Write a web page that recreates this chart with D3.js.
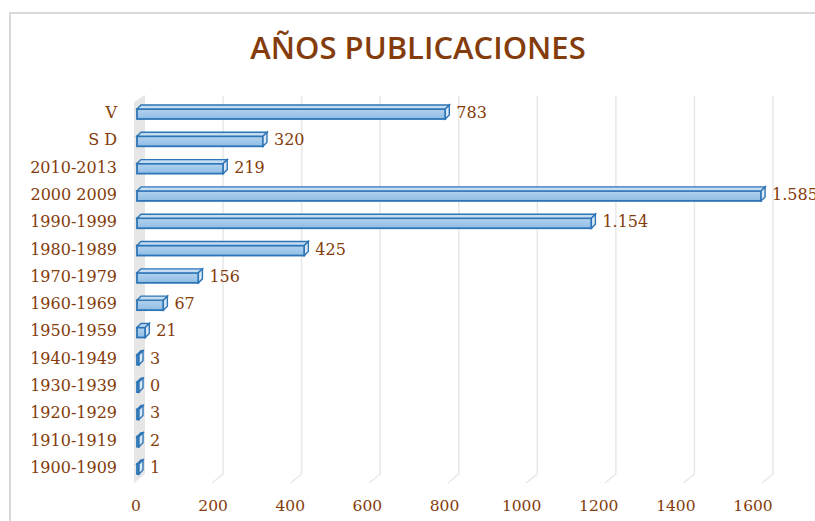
<!DOCTYPE html>
<html>
<head>
<meta charset="utf-8">
<script src="https://cdn.jsdelivr.net/npm/d3@7"></script>
<style>
  body { margin: 0; background: #fff; }
</style>
</head>
<body>
<svg id="chart"></svg>
<script>
const categories = ["V", "S D", "2010-2013", "2000 2009", "1990-1999", "1980-1989", "1970-1979",
    "1960-1969", "1950-1959", "1940-1949", "1930-1939", "1920-1929", "1910-1919", "1900-1909"];
const values = [783, 320, 219, 1585, 1154, 425, 156, 67, 21, 3, 0, 3, 2, 1];
const ticks = [0, 200, 400, 600, 800, 1000, 1200, 1400, 1600];

const width = 815;
const height = 521;
const brown = "#843c0c";
const serif = "DejaVu Serif, serif";

const svg = d3.select("#chart")
    .attr("width", width)
    .attr("height", height);

// chart frame
svg.append("rect")
    .attr("x", 10).attr("y", 13)
    .attr("width", 820).attr("height", 520)
    .attr("fill", "#fff")
    .attr("stroke", "#d9d9d9")
    .attr("stroke-width", 2);

svg.append("text")
    .text("AÑOS PUBLICACIONES")
    .attr("x", 418).attr("y", 59)
    .attr("text-anchor", "middle")
    .attr("font-family", "Open Sans, sans-serif")
    .attr("font-size", 31)
    .attr("font-weight", 600)
    .attr("fill", brown);

// scales: bars on the front, gridlines on the back wall, labels on the floor edge
const x = d3.scaleLinear().domain([0, 1600]).range([137, 767]);
const xGrid = d3.scaleLinear().domain([0, 1600]).range([144.5, 773]);
const xLabel = d3.scaleLinear().domain([0, 1600]).range([136, 753]);
const y = d3.scalePoint().domain(categories).range([112, 467]);
const barH = 14;

// back side wall
svg.append("polygon")
    .attr("points", "134,102 145,95 145,474 134,483")
    .attr("fill", "#e6e6e6");

// gridlines
svg.selectAll(".grid")
    .data(ticks.slice(1))
    .enter().append("line")
    .attr("x1", d => xGrid(d)).attr("x2", d => xGrid(d))
    .attr("y1", 96).attr("y2", 474)
    .attr("stroke", "#e8e8e8")
    .attr("stroke-width", 1.5);

// floor ticks (diagonal)
svg.selectAll(".floor")
    .data(ticks.slice(1))
    .enter().append("line")
    .attr("x1", d => xGrid(d)).attr("y1", 474)
    .attr("x2", d => xGrid(d) - 11).attr("y2", 483)
    .attr("stroke", "#e8e8e8")
    .attr("stroke-width", 1.5);

// axis labels
svg.selectAll(".tick")
    .data(ticks)
    .enter().append("text")
    .text(d => d)
    .attr("x", d => xLabel(d))
    .attr("y", 511)
    .attr("text-anchor", "middle")
    .attr("font-family", serif)
    .attr("font-size", 15.5)
    .attr("fill", brown);

// category labels
svg.selectAll(".cat")
    .data(categories)
    .enter().append("text")
    .text(d => d)
    .attr("x", 117)
    .attr("y", d => y(d) + 6)
    .attr("text-anchor", "end")
    .attr("font-family", serif)
    .attr("font-size", 16)
    .attr("fill", brown);

// 3D bars
const depth = 4;
const grad = svg.append("defs").append("linearGradient")
    .attr("id", "barfill").attr("x1", 0).attr("y1", 0).attr("x2", 0).attr("y2", 1);
grad.append("stop").attr("offset", "0%").attr("stop-color", "#b3d2ee");
grad.append("stop").attr("offset", "100%").attr("stop-color", "#8fbde6");

const bar = svg.selectAll(".bar")
    .data(categories.map((c, i) => ({cat: c, value: values[i]})))
    .enter().append("g");

bar.each(function (d) {
    const g = d3.select(this);
    const x0 = x(0), x1 = Math.max(x(d.value), x0 + 2);
    const top = y(d.cat) - barH / 2, bot = y(d.cat) + barH / 2;

    // front face
    g.append("rect")
        .attr("x", x0).attr("y", top + depth)
        .attr("width", x1 - x0).attr("height", bot - top - depth)
        .attr("fill", "url(#barfill)")
        .attr("stroke", "#2e75b6").attr("stroke-width", 1.8);
    // top face
    g.append("polygon")
        .attr("points", `${x0},${top + depth} ${x0 + depth},${top} ${x1 + depth},${top} ${x1},${top + depth}`)
        .attr("fill", "#c5ddf3")
        .attr("stroke", "#2e75b6").attr("stroke-width", 1.4);
    // right face
    g.append("polygon")
        .attr("points", `${x1},${top + depth} ${x1 + depth},${top} ${x1 + depth},${bot - depth} ${x1},${bot}`)
        .attr("fill", "#dbe9f7")
        .attr("stroke", "#2e75b6").attr("stroke-width", 1.4);
});

const locale = d3.formatLocale({decimal: ",", thousands: ".", grouping: [3], currency: ["", ""]});
const fmt = locale.format(",d");

svg.selectAll(".val")
    .data(values)
    .enter().append("text")
    .text(d => fmt(d))
    .attr("x", d => Math.max(x(d), x(0) + 2) + depth + 7)
    .attr("y", (d, i) => y(categories[i]) + 6)
    .attr("font-family", serif)
    .attr("font-size", 16)
    .attr("fill", brown);
</script>
</body>
</html>
